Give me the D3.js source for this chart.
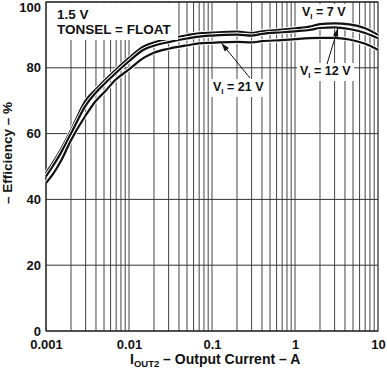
<!DOCTYPE html>
<html>
<head>
<meta charset="utf-8">
<script src="https://cdn.jsdelivr.net/npm/d3@7"></script>
<style>
  body { margin: 0; background: #fff; }
  text { font-family: "Liberation Sans", Arial, sans-serif; font-weight: bold; fill: #111; }
</style>
</head>
<body>
<svg id="chart" width="387" height="369"></svg>
<script>
// output current (A) and efficiency (%)
var currents = [0.001, 0.0012, 0.0015, 0.002, 0.003, 0.004, 0.005, 0.007, 0.01, 0.015,
                0.02, 0.03, 0.05, 0.07, 0.1, 0.2, 0.3, 0.4, 0.7, 1, 1.5, 2, 3, 4.5, 7, 10];
var eff7  = [48, 51, 55, 61, 70, 73.5, 76, 79.5, 83, 86.5,
             87.7, 88.8, 89.9, 90.5, 90.7, 91, 90.6, 91.1, 91.6, 92, 92.5, 93.3, 93.5, 93.2, 92, 90];
var eff12 = [47, 50, 54, 60, 68.5, 72.5, 75, 78.5, 82, 85.5,
             86.7, 87.8, 88.9, 89.5, 89.8, 90.1, 89.8, 90.3, 90.8, 91.1, 91.5, 92.1, 92.3, 91.8, 90.6, 89];
var eff21 = [45, 47.5, 51.5, 58, 65.5, 70, 72.5, 76.5, 79.5, 83,
             84.6, 85.8, 86.8, 87.4, 87.6, 87.9, 87.7, 88.1, 88.4, 88.7, 89, 89.1, 89.1, 88.6, 87.3, 85.5];
var seriesNames = ["7", "12", "21"];
var yTicks = [0, 20, 40, 60, 80, 100];
var xTicks = [0.001, 0.01, 0.1, 1, 10];
var xTickLabels = ["0.001", "0.01", "0.1", "1", "10"];

window.addEventListener("load", makeChart);
function makeChart() {
    var svg = d3.select("#chart");
    var scX = d3.scaleLog().domain([0.001, 10]).range([46, 378]);
    var scY = d3.scaleLinear().domain([0, 100]).range([331, 2]);

    // vertical grid: every 1..9 step of each decade
    var minor = [];
    for (var d = -3; d < 1; d++)
        for (var k = 1; k < 10; k++) minor.push(k * Math.pow(10, d));
    svg.append("g").selectAll("line").data(minor).enter().append("line")
        .attr("x1", scX).attr("x2", scX)
        .attr("y1", scY(0)).attr("y2", scY(100))
        .attr("stroke", "#444").attr("stroke-width", 1);

    svg.append("g").selectAll("line").data(yTicks).enter().append("line")
        .attr("x1", scX(0.001)).attr("x2", scX(10))
        .attr("y1", scY).attr("y2", scY)
        .attr("stroke", "#333").attr("stroke-width", 1);

    svg.append("rect").attr("x", scX(0.001)).attr("y", scY(100))
        .attr("width", scX(10) - scX(0.001)).attr("height", scY(0) - scY(100))
        .attr("fill", "none").attr("stroke", "#222").attr("stroke-width", 1.2);

    // curves
    var line = d3.line().x(function(p) { return scX(p[0]); })
        .y(function(p) { return scY(p[1]); }).curve(d3.curveMonotoneX);
    [eff7, eff12, eff21].forEach(function(ys) {
        var pts = currents.map(function(c, i) { return [c, ys[i]]; });
        svg.append("path").attr("d", line(pts)).attr("fill", "none")
            .attr("stroke", "#fff").attr("stroke-width", 4);
        svg.append("path").attr("d", line(pts)).attr("fill", "none")
            .attr("stroke", "#111").attr("stroke-width", 2.2);
    });

    // axes (labels only)
    var ax = svg.append("g").attr("transform", "translate(0," + (scY(0) + 6) + ")")
        .call(d3.axisBottom(scX).tickValues(xTicks)
              .tickFormat(function(v, i) { return xTickLabels[i]; }).tickSize(0));
    ax.select(".domain").remove();
    ax.selectAll("text").attr("font-size", 13).attr("font-family", null).style("fill", "#111");

    var ay = svg.append("g").attr("transform", "translate(" + 44 + ",0)")
        .call(d3.axisLeft(scY).tickValues(yTicks).tickSize(0));
    ay.select(".domain").remove();
    ay.selectAll("text").attr("font-size", 13).attr("font-family", null).style("fill", "#111");
    ay.selectAll("text").filter(function(v) { return v === 100; }).attr("dy", "0.75em");

    // axis titles
    var xt = svg.append("text").attr("x", 130).attr("y", 364).attr("font-size", 14);
    xt.append("tspan").text("I");
    xt.append("tspan").attr("font-size", 9.5).attr("dy", 3).text("OUT2");
    xt.append("tspan").attr("dy", -3).text(" \u2013 Output Current \u2013 A");

    svg.append("text").attr("transform", "translate(12,153) rotate(-90)")
        .attr("text-anchor", "middle").attr("font-size", 13.5)
        .text("\u2013 Efficiency \u2013 %");

    // condition box
    svg.append("rect").attr("x", 47).attr("y", 3).attr("width", 131).attr("height", 37).attr("fill", "#fff");
    svg.append("text").attr("x", 57).attr("y", 19).attr("font-size", 13.5).text("1.5 V");
    svg.append("text").attr("x", 57).attr("y", 34).attr("font-size", 13.5).text("TONSEL = FLOAT");

    // series labels
    function vlabel(x, y, name) {
        var g = svg.append("g");
        var r = g.append("rect").attr("fill", "#fff");
        var t = g.append("text").attr("x", x).attr("y", y).attr("font-size", 12.5);
        t.append("tspan").text("V");
        t.append("tspan").attr("font-size", 8).attr("dy", 3).text("I");
        t.append("tspan").attr("dy", -3).text(" = " + name + " V");
        var b = t.node().getBBox();
        r.attr("x", b.x - 3).attr("y", b.y - 1).attr("width", b.width + 6).attr("height", b.height + 2);
    }
    function arrow(x1, y1, x2, y2) {
        svg.append("line").attr("x1", x1).attr("y1", y1).attr("x2", x2).attr("y2", y2)
            .attr("stroke", "#111").attr("stroke-width", 1);
        var a = Math.atan2(y2 - y1, x2 - x1), L = 9, w = 0.3;
        svg.append("path").attr("fill", "#111").attr("d",
            "M" + x2 + "," + y2 +
            "L" + (x2 - L * Math.cos(a - w)) + "," + (y2 - L * Math.sin(a - w)) +
            "L" + (x2 - L * Math.cos(a + w)) + "," + (y2 - L * Math.sin(a + w)) + "Z");
    }
    vlabel(302, 16, seriesNames[0]);
    vlabel(300, 75, seriesNames[1]);
    vlabel(213, 91, seriesNames[2]);
    arrow(327, 64, scX(3.3), scY(92.1));
    arrow(250, 78, scX(0.13), scY(87.5));
}
</script>
</body>
</html>
